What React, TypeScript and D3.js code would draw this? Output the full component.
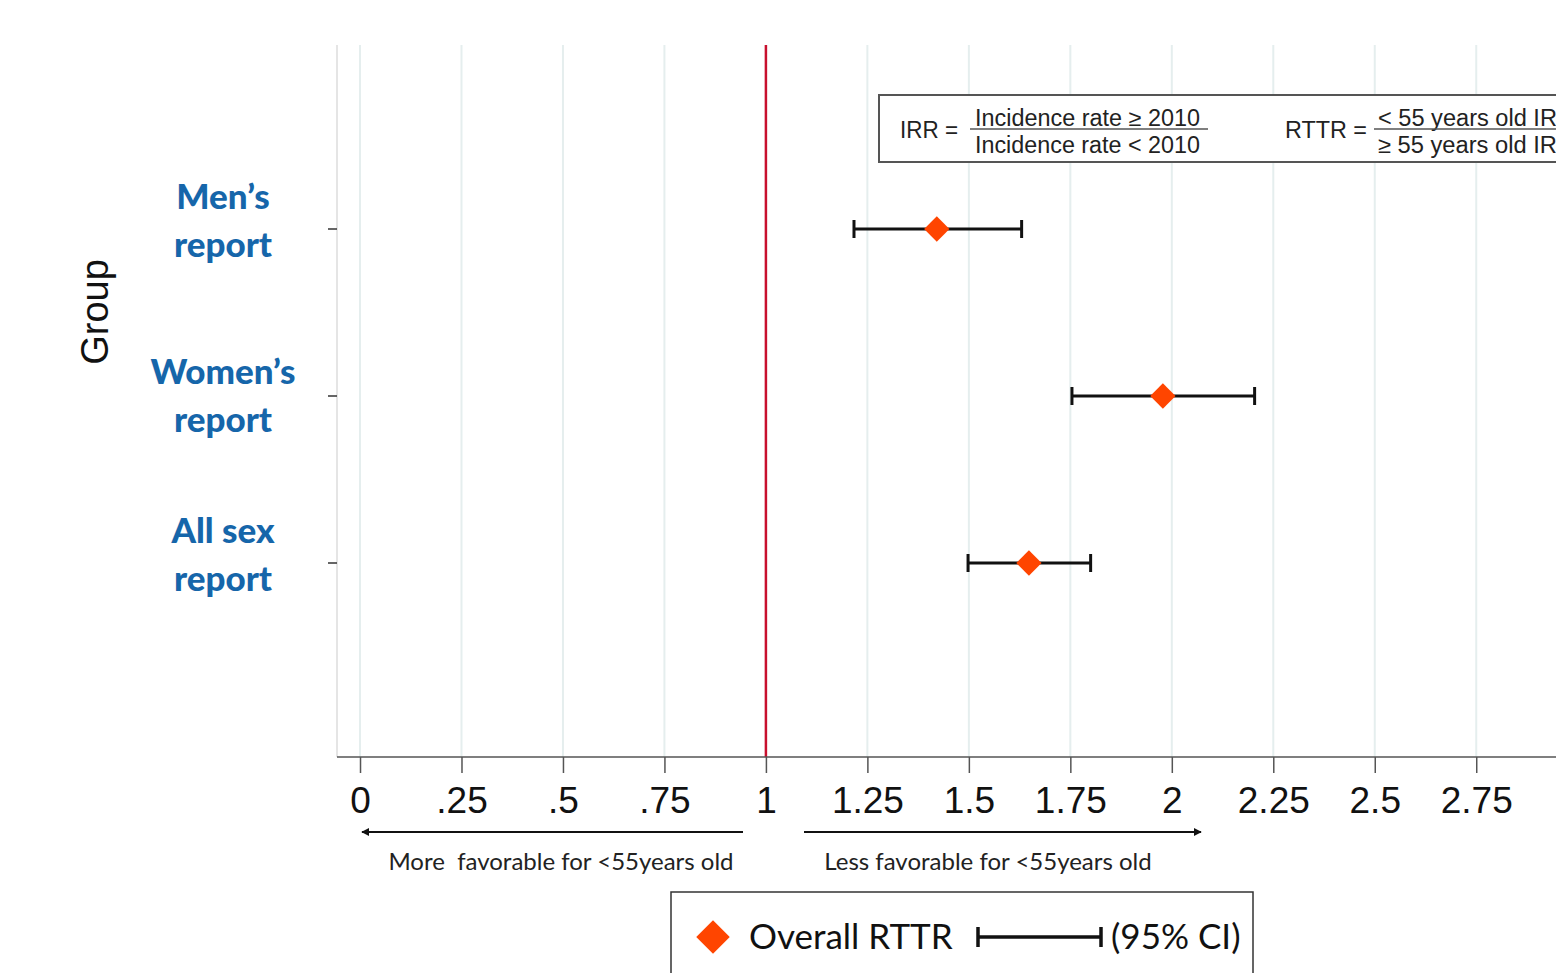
import { useEffect, useRef } from "react";
import * as d3 from "d3";

// chart values
const groupLines = [["Men’s", "report"], ["Women’s", "report"], ["All sex", "report"]];
const groups = ["Men’s report", "Women’s report", "All sex report"];
const estimates = [1.421, 1.978, 1.648];
const lowerCI = [1.217, 1.754, 1.498];
const upperCI = [1.63, 2.204, 1.8];
const xTicks = [0, 0.25, 0.5, 0.75, 1, 1.25, 1.5, 1.75, 2, 2.25, 2.5, 2.75];
const xTickLabels = ["0", ".25", ".5", ".75", "1", "1.25", "1.5", "1.75", "2", "2.25", "2.5", "2.75"];

export default function App() {
    const ref = useRef<SVGSVGElement>(null);

    useEffect(() => {
        const svg = d3.select(ref.current);
        svg.selectAll("*").remove();

        const width = 1556;
        const height = 973;
        const top = 45;
        const axisY = 757;
        const plotLeft = 337;

        const x = d3.scaleLinear().domain([-0.0567, 3.05]).range([plotLeft, 1598]);
        const y = d3.scalePoint().domain(groups).range([229, 563]);

        const sans = "'Liberation Sans', Arial, sans-serif";
        const cal = "Lato, 'Open Sans', sans-serif";

        svg.append("rect").attr("width", width).attr("height", height).attr("fill", "#fff");

        // grid lines
        svg.append("g")
            .selectAll("line")
            .data(xTicks.concat([3]).filter(t => t !== 1))
            .enter()
            .append("line")
            .attr("x1", d => x(d)).attr("x2", d => x(d))
            .attr("y1", top).attr("y2", axisY)
            .attr("stroke", "#e5eeee")
            .attr("stroke-width", 2);

        // left border of plot region
        svg.append("line")
            .attr("x1", plotLeft).attr("x2", plotLeft)
            .attr("y1", top).attr("y2", axisY)
            .attr("stroke", "#dcdcdc").attr("stroke-width", 1.5);

        // reference line at 1
        svg.append("line")
            .attr("x1", x(1)).attr("x2", x(1))
            .attr("y1", top).attr("y2", axisY)
            .attr("stroke", "#c8102e").attr("stroke-width", 2.5);

        // x axis
        const xAxis = svg.append("g")
            .attr("transform", `translate(0,${axisY})`)
            .call(d3.axisBottom(x).tickValues(xTicks).tickSize(16).tickPadding(14)
                .tickFormat((d, i) => xTickLabels[i]));
        xAxis.select(".domain").attr("d", `M${plotLeft},0H${width + 50}`).attr("stroke", "#555").attr("stroke-width", 1.5);
        xAxis.selectAll(".tick line").attr("stroke", "#555").attr("stroke-width", 1.5);
        xAxis.selectAll(".tick text")
            .attr("fill", "#111")
            .style("font-family", sans)
            .style("font-size", "37px");

        // y axis ticks
        svg.append("g")
            .selectAll("line")
            .data(groups)
            .enter()
            .append("line")
            .attr("x1", plotLeft - 9).attr("x2", plotLeft)
            .attr("y1", d => y(d)!).attr("y2", d => y(d)!)
            .attr("stroke", "#333").attr("stroke-width", 1.5);

        // y labels
        const labels = svg.append("g")
            .selectAll("text")
            .data(groups)
            .enter()
            .append("text")
            .attr("x", 223)
            .attr("y", (d, i) => y(d)! - 6 + (i === 1 ? 8 : 0))
            .attr("text-anchor", "middle")
            .attr("fill", "#1666aa")
            .style("font-family", cal)
            .style("font-weight", "900")
            .style("font-size", "35px");
        labels.each(function (d, i) {
            const t = d3.select(this);
            groupLines[i].forEach((ln, j) => {
                t.append("tspan")
                    .attr("x", 223)
                    .attr("dy", j === 0 ? "-0.4em" : "1.37em")
                    .text(ln);
            });
        });

        svg.append("text")
            .attr("transform", `translate(108,312) rotate(-90)`)
            .attr("text-anchor", "middle")
            .attr("fill", "#111")
            .style("font-family", sans)
            .style("font-size", "38px")
            .text("Group");

        // CI bars
        const ci = svg.append("g").selectAll("g")
            .data(groups)
            .enter()
            .append("g")
            .attr("stroke", "#111")
            .attr("stroke-width", 3);
        ci.append("line")
            .attr("x1", (d, i) => x(lowerCI[i])).attr("x2", (d, i) => x(upperCI[i]))
            .attr("y1", d => y(d)!).attr("y2", d => y(d)!);
        ci.append("line")
            .attr("x1", (d, i) => x(lowerCI[i])).attr("x2", (d, i) => x(lowerCI[i]))
            .attr("y1", d => y(d)! - 9).attr("y2", d => y(d)! + 9);
        ci.append("line")
            .attr("x1", (d, i) => x(upperCI[i])).attr("x2", (d, i) => x(upperCI[i]))
            .attr("y1", d => y(d)! - 9).attr("y2", d => y(d)! + 9);

        // diamonds
        const diamond = d3.symbol().type(d3.symbolSquare).size(320);
        svg.append("g").selectAll("path")
            .data(groups)
            .enter()
            .append("path")
            .attr("d", diamond)
            .attr("transform", (d, i) => `translate(${x(estimates[i])},${y(d)}) rotate(45)`)
            .attr("fill", "#ff4500");

        // direction arrows
        svg.append("defs").append("marker")
            .attr("id", "arrow")
            .attr("viewBox", "0 0 10 10")
            .attr("refX", 9).attr("refY", 5)
            .attr("markerWidth", 4).attr("markerHeight", 4)
            .attr("orient", "auto-start-reverse")
            .append("path")
            .attr("d", "M0,0L10,5L0,10z")
            .attr("fill", "#111");

        svg.append("line")
            .attr("x1", 743).attr("x2", x(0) + 2)
            .attr("y1", 832).attr("y2", 832)
            .attr("stroke", "#111").attr("stroke-width", 2)
            .attr("marker-end", "url(#arrow)");
        svg.append("line")
            .attr("x1", 804).attr("x2", 1201)
            .attr("y1", 832).attr("y2", 832)
            .attr("stroke", "#111").attr("stroke-width", 2)
            .attr("marker-end", "url(#arrow)");

        svg.append("text")
            .attr("x", 561).attr("y", 870)
            .attr("text-anchor", "middle")
            .attr("fill", "#222")
            .style("font-family", cal)
            .style("font-size", "24px")
            .style("white-space", "pre")
            .text("More  favorable for <55years old");
        svg.append("text")
            .attr("x", 988).attr("y", 870)
            .attr("text-anchor", "middle")
            .attr("fill", "#222")
            .style("font-family", cal)
            .style("font-size", "24px")
            .text("Less favorable for <55years old");

        // legend
        const lg = svg.append("g");
        lg.append("rect")
            .attr("x", 671).attr("y", 892)
            .attr("width", 582).attr("height", 100)
            .attr("fill", "#fff").attr("stroke", "#333").attr("stroke-width", 1.5);
        lg.append("path")
            .attr("d", d3.symbol().type(d3.symbolSquare).size(560)())
            .attr("transform", "translate(713,937) rotate(45)")
            .attr("fill", "#ff4500");
        lg.append("text")
            .attr("x", 749).attr("y", 949)
            .attr("fill", "#111")
            .style("font-family", cal)
            .style("font-size", "35px")
            .text("Overall RTTR");
        const lgCi = lg.append("g").attr("stroke", "#111").attr("stroke-width", 3.5);
        lgCi.append("line").attr("x1", 978).attr("x2", 1101).attr("y1", 937).attr("y2", 937);
        lgCi.append("line").attr("x1", 978).attr("x2", 978).attr("y1", 927).attr("y2", 947);
        lgCi.append("line").attr("x1", 1101).attr("x2", 1101).attr("y1", 927).attr("y2", 947);
        lg.append("text")
            .attr("x", 1111).attr("y", 949)
            .attr("fill", "#111")
            .style("font-family", cal)
            .style("font-size", "35px")
            .text("(95% CI)");

        // formula box
        const fb = svg.append("g");
        fb.append("rect")
            .attr("x", 879).attr("y", 95)
            .attr("width", 760).attr("height", 67)
            .attr("fill", "#fff").attr("stroke", "#555").attr("stroke-width", 2);
        const ftxt = (tx: number, ty: number, s: string, len: number) =>
            fb.append("text")
                .attr("x", tx).attr("y", ty)
                .attr("fill", "#222")
                .attr("textLength", len)
                .attr("lengthAdjust", "spacingAndGlyphs")
                .style("font-family", sans)
                .style("font-size", "23px")
                .text(s);
        ftxt(900, 138, "IRR =", 58);
        ftxt(975, 126, "Incidence rate ≥ 2010", 225);
        ftxt(975, 153, "Incidence rate < 2010", 225);
        fb.append("line").attr("x1", 970).attr("x2", 1208).attr("y1", 129).attr("y2", 129)
            .attr("stroke", "#555").attr("stroke-width", 1.5);
        ftxt(1285, 138, "RTTR =", 82);
        ftxt(1378, 126, "< 55 years old IRR", 196);
        ftxt(1378, 153, "≥ 55 years old IRR", 196);
        fb.append("line").attr("x1", 1374).attr("x2", 1600).attr("y1", 129).attr("y2", 129)
            .attr("stroke", "#555").attr("stroke-width", 1.5);
    }, []);

    return (
        <svg
            ref={ref}
            width={1556}
            height={973}
            style={{ position: "absolute", left: 0, top: 0, display: "block" }}
        />
    );
}
